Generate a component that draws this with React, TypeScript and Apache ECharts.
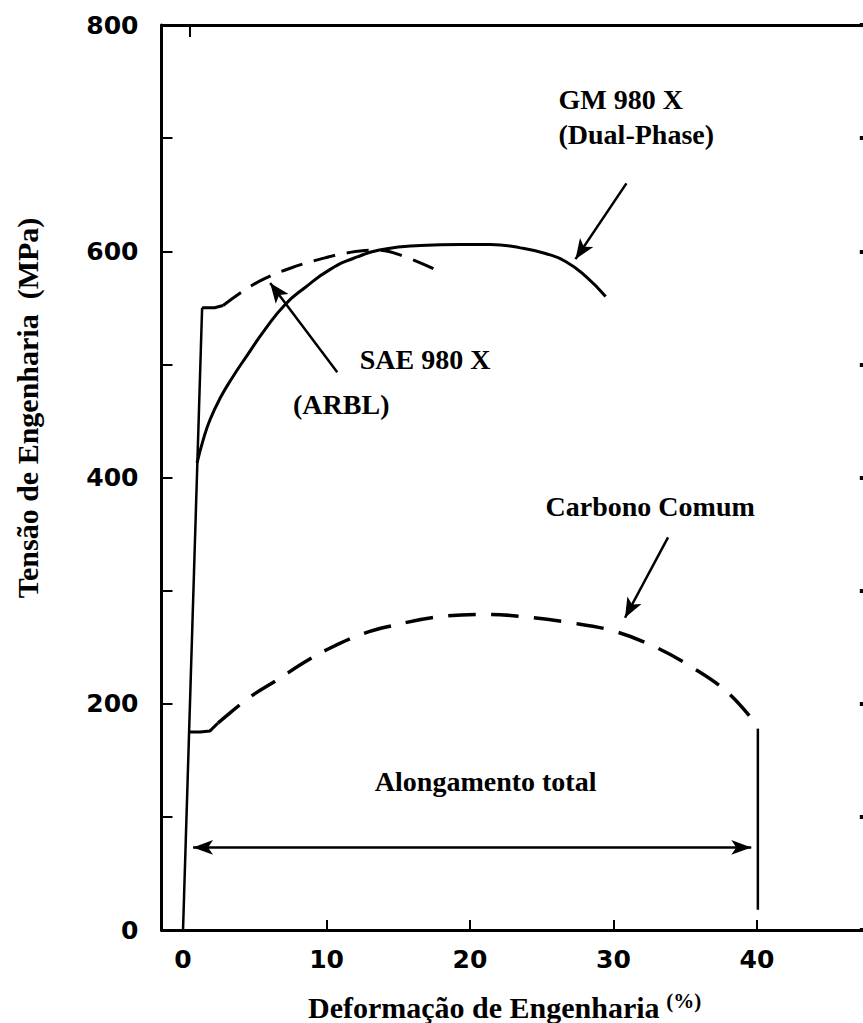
import { useEffect, useRef } from "react";
import * as echarts from "echarts";

// Engineering strain (%) vs engineering stress (MPa)
const elasticLine = [
  [0, 0],
  [1.33, 550],
];

const sae980Yield = [
  [1.33, 550],
  [2.2, 550],
  [2.79, 552],
];

const sae980Curve = [
  [2.79, 552],
  [4.33, 566],
  [5.72, 576],
  [7.47, 585],
  [9.56, 593],
  [11.65, 599],
  [13.61, 601],
  [15.49, 595],
  [17.72, 583],
];

const gm980Curve = [
  [0.98, 413],
  [1.4, 433],
  [1.88, 451],
  [2.58, 470],
  [3.42, 488],
  [4.47, 508],
  [5.72, 531],
  [7.12, 553],
  [8.51, 568],
  [10.26, 584],
  [12.14, 595],
  [14.1, 602],
  [16.54, 605],
  [19.33, 606],
  [21.42, 606],
  [23.52, 603],
  [25.26, 598],
  [26.66, 591],
  [28.05, 578],
  [29.45, 560],
];

const carbonYield = [
  [0.42, 175],
  [1.19, 175],
  [1.88, 176],
  [2.44, 183],
];

const carbonCurve = [
  [2.44, 183],
  [3.28, 192],
  [4.67, 206],
  [6.56, 221],
  [8.37, 236],
  [10.05, 248],
  [12.35, 261],
  [14.24, 268],
  [17.93, 277],
  [21.21, 279],
  [23.73, 277],
  [26.8, 272],
  [29.8, 265],
  [32.59, 252],
  [35.38, 233],
  [37.96, 210],
  [40.06, 180],
];

const carbonFracture = [
  [40.06, 178],
  [40.06, 18],
];

const strainTicks = [0, 10, 20, 30, 40];
const stressLabels = [0, 200, 400, 600, 800];

// Callout texts and the points they are anchored at (strain %, MPa)
const noteTexts = ["GM 980 X", "(Dual-Phase)", "SAE 980 X", "(ARBL)", "Carbono Comum", "Alongamento total"];
const noteAnchors = [
  [26.2, 734],
  [26.2, 703],
  [12.35, 504],
  [7.7, 464],
  [25.3, 374],
  [13.4, 131],
];

// Callout arrows: [from, to]
const arrowPaths = [
  [[30.9, 660], [27.35, 593]],
  [[10.75, 493], [6.07, 572]],
  [[33.8, 347], [30.8, 276]],
];
const elongationArrow = [[0.7, 73], [39.6, 73]];

const INK = "#000";
const SERIF = "'Liberation Serif', 'Times New Roman', serif";
const SANS = "'DejaVu Sans', sans-serif";

export default function App() {
  const ref = useRef<HTMLDivElement>(null);

  useEffect(() => {
    if (!ref.current) return;
    const chart = echarts.init(ref.current, null, { renderer: "svg" });

    const solid = (name: string, data: number[][], width = 3) => ({
      name,
      type: "line",
      data,
      showSymbol: false,
      symbol: "none",
      smooth: false,
      lineStyle: { color: INK, width, type: "solid" },
      silent: true,
      z: 3,
    });

    const arrowItems: any[] = arrowPaths.map(([a, b]) => [
      { coord: a, symbol: "none" },
      { coord: b, symbol: "arrow", symbolSize: [12, 20] },
    ]);
    arrowItems.push([
      { coord: elongationArrow[0], symbol: "arrow", symbolSize: [11, 20] },
      { coord: elongationArrow[1], symbol: "arrow", symbolSize: [11, 20] },
    ]);

    const option = {
      animation: false,
      backgroundColor: "#fff",
      grid: { left: 161.5, right: 8.2, top: 25, bottom: 93, containLabel: false },
      xAxis: [
        {
          type: "value",
          position: "bottom",
          min: -1.5,
          max: 48,
          axisLine: { show: true, lineStyle: { color: INK, width: 3 } },
          axisTick: {
            show: true,
            inside: true,
            length: 10,
            customValues: strainTicks,
            lineStyle: { color: INK, width: 2 },
          },
          axisLabel: {
            show: true,
            customValues: strainTicks,
            margin: 17,
            color: INK,
            fontFamily: SANS,
            fontWeight: "bold",
            fontSize: 25,
          },
          splitLine: { show: false },
        },
        {
          type: "value",
          position: "top",
          min: -1.5,
          max: 48,
          axisLine: { show: true, onZero: false, lineStyle: { color: INK, width: 3 } },
          axisTick: {
            show: true,
            inside: true,
            length: 12,
            customValues: [0.5],
            lineStyle: { color: INK, width: 2 },
          },
          axisLabel: { show: false },
          splitLine: { show: false },
        },
      ],
      yAxis: [
        {
          type: "value",
          position: "left",
          min: 0,
          max: 800,
          interval: 100,
          axisLine: { show: true, onZero: false, lineStyle: { color: INK, width: 3 } },
          axisTick: { show: true, inside: true, length: 11, lineStyle: { color: INK, width: 2 } },
          axisLabel: {
            show: true,
            customValues: stressLabels,
            margin: 23,
            color: INK,
            fontFamily: SANS,
            fontWeight: "bold",
            fontSize: 25,
          },
          splitLine: { show: false },
        },
        {
          type: "value",
          position: "right",
          min: 0,
          max: 800,
          interval: 100,
          axisLine: { show: true, onZero: false, lineStyle: { color: INK, width: 3 } },
          axisTick: { show: true, inside: true, length: 12, lineStyle: { color: INK, width: 4 } },
          axisLabel: { show: false },
          splitLine: { show: false },
        },
      ],
      series: [
        solid("Elástica", elasticLine, 2.5),
        solid("SAE 980 X escoamento", sae980Yield, 3),
        {
          ...solid("SAE 980 X (ARBL)", sae980Curve, 3),
          smooth: 0.4,
          lineStyle: { color: INK, width: 3, type: [22, 12] },
        },
        { ...solid("GM 980 X (Dual-Phase)", gm980Curve, 3), smooth: 0.5 },
        solid("Carbono Comum escoamento", carbonYield, 3),
        {
          ...solid("Carbono Comum", carbonCurve, 3.5),
          smooth: 0.4,
          lineStyle: { color: INK, width: 3.5, type: [28, 15] },
        },
        solid("Ruptura", carbonFracture, 2.5),
        {
          name: "Anotações",
          type: "scatter",
          silent: true,
          symbol: "circle",
          symbolSize: 1,
          itemStyle: { color: "rgba(255,255,255,0)" },
          data: noteTexts.map((t, i) => ({ name: t, value: noteAnchors[i] })),
          label: {
            show: true,
            position: [0, 0],
            align: "left",
            verticalAlign: "middle",
            formatter: (p: any) => p.name,
            color: INK,
            opacity: 1,
            textBorderWidth: 0,
            fontFamily: SERIF,
            fontWeight: "bold",
            fontSize: 28,
          },
          markLine: {
            silent: true,
            animation: false,
            symbol: ["none", "arrow"],
            label: { show: false },
            lineStyle: { color: INK, width: 2.5, type: "solid" },
            emphasis: { disabled: true },
            data: arrowItems,
          },
          z: 4,
        },
      ],
      graphic: [
        {
          type: "text",
          x: 27,
          y: 408,
          rotation: Math.PI / 2,
          style: {
            text: "Tensão de Engenharia  (MPa)",
            fill: INK,
            font: `bold 30px ${SERIF}`,
            textAlign: "center",
            textVerticalAlign: "middle",
          },
        },
        {
          type: "text",
          x: 308,
          y: 1007,
          style: {
            text: "{a|Deformação de Engenharia}  {b|(%)}",
            textAlign: "left",
            textVerticalAlign: "middle",
            rich: {
              a: { fontFamily: SERIF, fontWeight: "bold", fontSize: 30, fill: INK, lineHeight: 34 },
              b: {
                fontFamily: SERIF,
                fontWeight: "bold",
                fontSize: 21,
                fill: INK,
                lineHeight: 20,
                verticalAlign: "top",
              },
            },
          },
        },
      ],
    };

    chart.setOption(option as any);
    return () => chart.dispose();
  }, []);

  return (
    <div
      style={{
        position: "fixed",
        left: 0,
        top: 0,
        width: 863,
        height: 1023,
        overflow: "hidden",
        background: "#fff",
      }}
    >
      <div ref={ref} style={{ width: 880, height: 1023 }} />
    </div>
  );
}
